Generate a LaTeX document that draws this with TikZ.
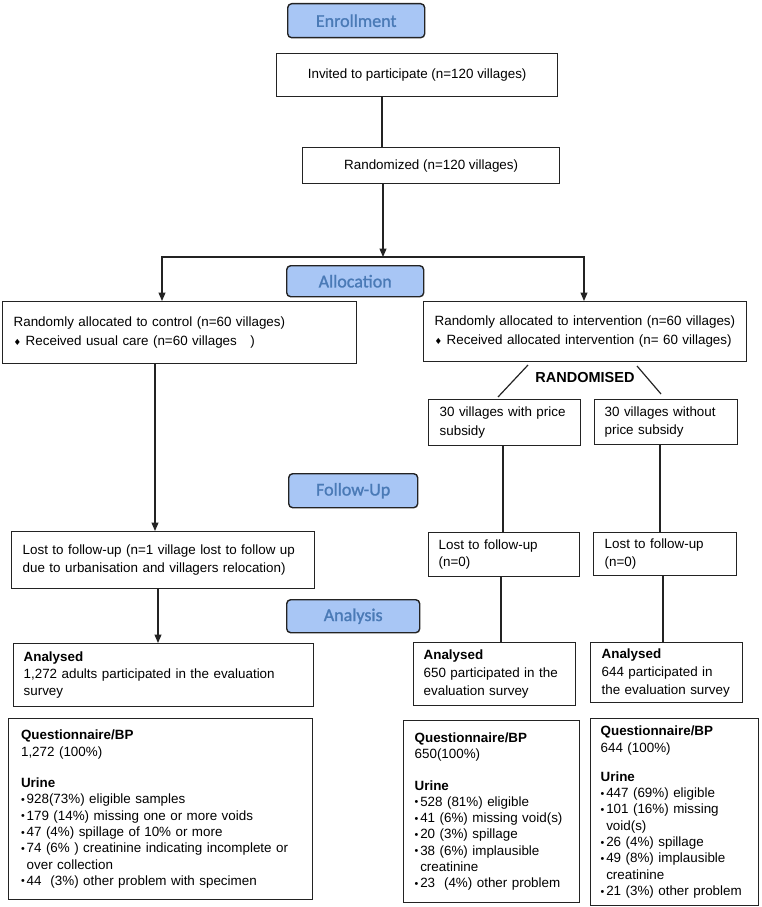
\documentclass[tikz,border=0pt]{standalone}
\usepackage{fontspec}
\usepackage{graphicx}
\setmainfont{Liberation Sans}
\newfontfamily\phasefont[FakeBold=1.3]{Carlito}
\newfontfamily\symfont{DejaVu Sans}
\usetikzlibrary{arrows.meta}
\definecolor{phasefill}{RGB}{168,198,245}
\definecolor{phasetext}{RGB}{74,122,182}
\definecolor{edgecol}{RGB}{35,35,35}
\newcommand\bul{\makebox[5.6pt][l]{\raisebox{0.4pt}{\scalebox{0.8}{•}}}}
\newcommand\hang{\hspace*{5.6pt}}
\newcommand\dmd{{\symfont\fontsize{8.5}{8.5}\selectfont ♦}\ }
\begin{document}
\begin{tikzpicture}[x=1pt,y=-1pt,
  box/.style={draw=edgecol, line width=1.3pt, rectangle, anchor=north west, inner sep=0pt,
    font=\fontsize{13.4}{18.5}\selectfont},
  lbox/.style={box, align=left, inner xsep=11pt},
  qbox/.style={box, align=left, inner xsep=11pt, font=\fontsize{13.4}{16.3}\selectfont},
  phase/.style={draw=edgecol, line width=1.4pt, rounded corners=4pt, fill=phasefill,
    anchor=north west, inner sep=0pt, text=phasetext, font=\phasefont\fontsize{18}{20}\selectfont},
  conn/.style={draw=edgecol, line width=1.2pt},
  arr/.style={conn, -{Triangle[length=8.5pt,width=7pt]}},
]
\useasboundingbox (0,0) rectangle (761,907);

% phase labels
\node[phase, minimum width=137pt, minimum height=34pt] (enr) at (287,3) {Enrollment};
\node[phase, minimum width=137pt, minimum height=31pt] (alc) at (286,265) {Allocation};
\node[phase, minimum width=129pt, minimum height=34pt] (fup) at (288,473) {Follow-Up};
\node[phase, minimum width=133pt, minimum height=33pt] (ana) at (286,599) {Analysis};

% enrollment
\node[box, minimum width=281pt, minimum height=43pt] (inv) at (276,53) {Invited to participate (n=120 villages)};
\node[box, minimum width=257pt, minimum height=36pt] (rnd) at (302,147) {Randomized (n=120 villages)};

% allocation
\node[lbox, text width=332pt, minimum height=62pt] (ctrl) at (2,301)
  {Randomly allocated to control (n=60 villages)\\ \dmd Received usual care (n=60 villages\ \ \ )};
\node[lbox, text width=301pt, minimum height=60pt] (intv) at (423,301)
  {Randomly allocated to intervention (n=60 villages)\\ \dmd Received allocated intervention (n= 60 villages)};

\node[font=\bfseries\fontsize{14.5}{16}\selectfont, inner sep=0pt] (rlab) at (585,378) {RANDOMISED};

\node[lbox, text width=130pt, minimum height=46pt] (prL) at (428,399) {30 villages with price\\ subsidy};
\node[lbox, inner xsep=10pt, text width=123pt, minimum height=45pt] (prR) at (594,399) {30 villages without\\ price subsidy};

% follow-up
\node[lbox, text width=281pt, minimum height=57pt, font=\fontsize{13.4}{17.5}\selectfont] (lostL) at (11,531)
  {Lost to follow-up (n=1 village lost to follow up\\ due to urbanisation and villagers relocation)};
\node[lbox, inner xsep=10pt, text width=131pt, minimum height=44pt, font=\fontsize{13.4}{17.5}\selectfont] (lostM) at (428,532)
  {Lost to follow-up\\ (n=0)};
\node[lbox, text width=121pt, minimum height=43pt, font=\fontsize{13.4}{17.5}\selectfont] (lostR) at (593,532)
  {Lost to follow-up\\ (n=0)};

% analysis
\node[lbox, inner xsep=10pt, text width=280pt, minimum height=63pt, font=\fontsize{13.4}{17}\selectfont] (anaL) at (13,643)
  {\textbf{Analysed}\\ 1,272 adults participated in the evaluation\\ survey};
\node[lbox, inner xsep=10pt, text width=142pt, minimum height=63pt, font=\fontsize{13.4}{18}\selectfont] (anaM) at (413,642)
  {\textbf{Analysed}\\ 650 participated in the\\ evaluation survey};
\node[lbox, text width=130pt, minimum height=60pt, font=\fontsize{13.4}{18}\selectfont] (anaR) at (590,642)
  {\textbf{Analysed}\\ 644 participated in\\ the evaluation survey};

\node[qbox, inner xsep=12.4pt, text width=279pt, minimum height=181pt] (qL) at (8,718)
  {\textbf{Questionnaire/BP}\\ 1,272 (100\%)\\[15pt] \textbf{Urine}\\
   \bul 928(73\%) eligible samples\\
   \bul 179 (14\%) missing one or more voids\\
   \bul 47 (4\%) spillage of 10\% or more\\
   \bul 74 (6\% ) creatinine indicating incomplete or\\
   \hang over collection\\
   \bul 44\ \ (3\%) other problem with specimen};
\node[qbox, text width=154pt, minimum height=182pt] (qM) at (403,720)
  {\textbf{Questionnaire/BP}\\ 650(100\%)\\[15pt] \textbf{Urine}\\
   \bul 528 (81\%) eligible\\
   \bul 41 (6\%) missing void(s)\\
   \bul 20 (3\%) spillage\\
   \bul 38 (6\%) implausible\\
   \hang creatinine\\
   \bul 23\ \ (4\%) other problem};
\node[qbox, inner xsep=10pt, text width=148pt, minimum height=187pt] (qR) at (590,718)
  {\textbf{Questionnaire/BP}\\ 644 (100\%)\\[13pt] \textbf{Urine}\\
   \bul 447 (69\%) eligible\\
   \bul 101 (16\%) missing\\
   \hang void(s)\\
   \bul 26 (4\%) spillage\\
   \bul 49 (8\%) implausible\\
   \hang creatinine\\
   \bul 21 (3\%) other problem};

% connector guide coordinates
\coordinate (c1) at (382,0);
\coordinate (bm) at (383,257);
\coordinate (bl) at (162,257);
\coordinate (bR) at (584,257);
\coordinate (c2) at (155,0);
\coordinate (c3) at (158,0);
\coordinate (c4) at (503,0);
\coordinate (c5) at (660,0);
\coordinate (c6) at (501,0);
\coordinate (c7) at (663,0);
\coordinate (s1a) at (528,365);
\coordinate (s1b) at (498,397);
\coordinate (s2a) at (637,366);
\coordinate (s2b) at (661,394);

% connectors
\draw[conn] (inv.south -| c1) -- (rnd.north -| c1);
\draw[arr] (rnd.south -| bm) -- (bm);
\draw[arr] (bm) -- (bl) -- (ctrl.north -| bl);
\draw[arr] (bm) -- (bR) -- (intv.north -| bR);
\draw[arr] (ctrl.south -| c2) -- (lostL.north -| c2);
\draw[arr] (lostL.south -| c3) -- (anaL.north -| c3);
\draw[conn] (prL.south -| c4) -- (lostM.north -| c4);
\draw[conn] (prR.south -| c5) -- (lostR.north -| c5);
\draw[conn] (lostM.south -| c6) -- (anaM.north -| c6);
\draw[conn] (lostR.south -| c7) -- (anaR.north -| c7);
\draw[conn] (s1a) -- (s1b);
\draw[conn] (s2a) -- (s2b);
\end{tikzpicture}
\end{document}
